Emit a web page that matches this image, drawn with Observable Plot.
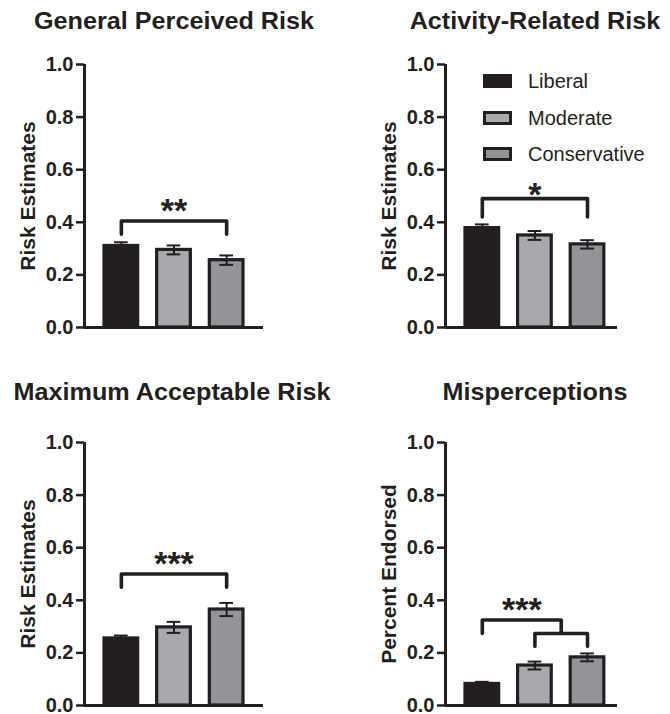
<!DOCTYPE html>
<html>
<head>
<meta charset="utf-8">
<script src="https://cdn.jsdelivr.net/npm/d3@7"></script>
<script src="https://cdn.jsdelivr.net/npm/@observablehq/plot@0.6"></script>
<style>
  html, body { margin: 0; padding: 0; background: #fff; }
  body { width: 670px; height: 714px; position: relative; overflow: hidden; font-family: "Liberation Sans", Arial, Helvetica, sans-serif; color: #231f20; }
  .panel { position: absolute; }
  .title { position: absolute; font-weight: bold; font-size: 24px; line-height: 28px; text-align: center; white-space: nowrap; transform: translateX(-50%) scaleX(1.05); }
  .legend { position: absolute; left: 483px; top: 69px; }
  .legend .item { position: absolute; left: 0; height: 24px; white-space: nowrap; font-size: 20px; line-height: 24px; }
  .legend .sw { position: absolute; left: 0; top: 5px; width: 23px; height: 8px; border: 3px solid #231f20; }
  .legend .lbl { position: absolute; left: 45px; top: 0; }
</style>
</head>
<body>
<script>
// ---- data ----
const groups = ["Liberal", "Moderate", "Conservative"];
const groupColors = ["#231f20", "#a7a9ac", "#929497"];

const panelTitles = ["General Perceived Risk", "Activity-Related Risk", "Maximum Acceptable Risk", "Misperceptions"];
const panelYLabels = ["Risk Estimates", "Risk Estimates", "Risk Estimates", "Percent Endorsed"];

const generalMean = [0.310, 0.295, 0.256];
const generalSE   = [0.014, 0.017, 0.018];
const activityMean = [0.378, 0.350, 0.316];
const activitySE   = [0.014, 0.017, 0.016];
const maxAccMean = [0.255, 0.297, 0.365];
const maxAccSE   = [0.011, 0.021, 0.025];
const mispMean = [0.082, 0.152, 0.183];
const mispSE   = [0.008, 0.015, 0.015];

const yTicks = [0, 0.2, 0.4, 0.6, 0.8, 1.0];

// significance brackets: [from, to, top y, leg bottom y]
const generalBrackets = [[0, 2, 0.405, 0.355]];
const activityBrackets = [[0, 2, 0.49, 0.42]];
const maxAccBrackets = [[0, 2, 0.50, 0.45]];
const mispBrackets = [[0, 1.5, 0.325, 0.274], [1, 2, 0.274, 0.225]];

const generalStars = ["**", 1, 0.47];
const activityStars = ["*", 1, 0.53];
const maxAccStars = ["***", 1, 0.565];
const mispStars = ["***", 0.75, 0.39];

// ---- drawing ----
const ink = "#231f20";
const halfBar = 0.32;

function panel({means, ses, brackets, stars, ylabel, xEnd, width}) {
  const rows = groups.map((g, i) => ({g, i, v: means[i], se: ses[i]}));
  const bracketPaths = brackets.map(([a, b, top, leg]) => [
    {x: a, y: leg}, {x: a, y: top}, {x: b, y: top}, {x: b, y: leg}
  ]);
  const marks = [
    Plot.rectY(rows, {x1: d => d.i - halfBar, x2: d => d.i + halfBar, y1: 0, y2: "v", fill: d => groupColors[d.i], stroke: ink, strokeWidth: 3.2}),
    Plot.ruleX(rows, {x: "i", y1: d => d.v - d.se, y2: d => d.v + d.se, stroke: ink, strokeWidth: 2}),
    Plot.ruleY(rows, {y: d => d.v + d.se, x1: d => d.i - 0.13, x2: d => d.i + 0.13, stroke: ink, strokeWidth: 2}),
    Plot.ruleY(rows, {y: d => d.v - d.se, x1: d => d.i - 0.13, x2: d => d.i + 0.13, stroke: ink, strokeWidth: 2}),
    ...bracketPaths.map(p => Plot.line(p, {x: "x", y: "y", stroke: ink, strokeWidth: 3.6, strokeLinejoin: "round", curve: "linear"})),
    Plot.text([stars], {x: d => d[1], y: d => d[2], text: d => d[0], fontSize: 34, fontWeight: "bold", fill: ink, lineAnchor: "middle", dy: 7}),
    Plot.ruleX([-0.7], {y1: 0, y2: 1, stroke: ink, strokeWidth: 3}),
    Plot.ruleY([0], {x1: -0.7, x2: xEnd, stroke: ink, strokeWidth: 3}),
    Plot.axisY({ticks: yTicks, tickFormat: d3.format(".1f"), tickSize: 8, tickPadding: 3, strokeWidth: 2.5, stroke: ink, fill: ink, fontSize: 20, fontWeight: "bold", label: null}),
    Plot.text([ylabel], {frameAnchor: "left", dx: -56, rotate: -90, text: d => d, textAnchor: "middle", fontSize: 21, fontWeight: "bold", fill: ink, lineAnchor: "middle"})
  ];
  return Plot.plot({
    width, height: 340,
    marginLeft: 84, marginRight: width - 84 - Math.round((xEnd + 0.7) * 52.6), marginTop: 64, marginBottom: 13,
    style: {fontFamily: '"Liberation Sans", Arial, sans-serif', background: "transparent", overflow: "visible"},
    x: {type: "linear", domain: [-0.7, xEnd], axis: null},
    y: {domain: [0, 1], axis: null},
    marks
  });
}

const configs = [
  {means: generalMean, ses: generalSE, brackets: generalBrackets, stars: generalStars, left: 0, top: 0, xEnd: 2.7, width: 335},
  {means: activityMean, ses: activitySE, brackets: activityBrackets, stars: activityStars, left: 361, top: 0, xEnd: 2.57, width: 309},
  {means: maxAccMean, ses: maxAccSE, brackets: maxAccBrackets, stars: maxAccStars, left: 0, top: 378, xEnd: 2.7, width: 335},
  {means: mispMean, ses: mispSE, brackets: mispBrackets, stars: mispStars, left: 361, top: 378, xEnd: 2.57, width: 309}
];
const titlePos = [[174, 7], [535, 7], [172, 378], [535, 378]];

configs.forEach((c, k) => {
  const div = document.createElement("div");
  div.className = "panel";
  div.style.left = c.left + "px";
  div.style.top = c.top + "px";
  div.appendChild(panel({...c, ylabel: panelYLabels[k]}));
  document.body.appendChild(div);
  const t = document.createElement("div");
  t.className = "title";
  t.textContent = panelTitles[k];
  t.style.left = titlePos[k][0] + "px";
  t.style.top = titlePos[k][1] + "px";
  document.body.appendChild(t);
});

// legend
const legend = document.createElement("div");
legend.className = "legend";
groups.forEach((g, i) => {
  const item = document.createElement("div");
  item.className = "item";
  item.style.top = (i * 36.5) + "px";
  const sw = document.createElement("div");
  sw.className = "sw";
  sw.style.background = groupColors[i];
  const lbl = document.createElement("span");
  lbl.className = "lbl";
  lbl.textContent = g;
  item.appendChild(sw);
  item.appendChild(lbl);
  legend.appendChild(item);
});
document.body.appendChild(legend);
</script>
</body>
</html>
